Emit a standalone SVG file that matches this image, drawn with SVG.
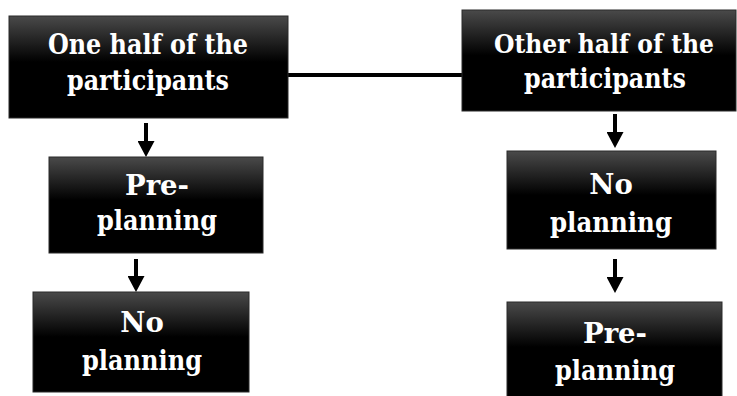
<svg xmlns="http://www.w3.org/2000/svg" width="737" height="396" viewBox="0 0 737 396">
<defs>
<linearGradient id="g" x1="0" y1="0" x2="0" y2="1">
<stop offset="0" stop-color="#4a4a4a"/>
<stop offset="0.45" stop-color="#000"/>
<stop offset="1" stop-color="#000"/>
</linearGradient>
<marker id="ah" markerWidth="4.25" markerHeight="4.25" refX="0" refY="2.125" orient="auto" markerUnits="strokeWidth">
<path d="M0,0 L4,2.125 L0,4.25 z" fill="#000"/>
</marker>
</defs>
<style>
.box{fill:url(#g);stroke:#2a2a2a;stroke-width:1}
.t{font-family:'DejaVu Serif',serif;font-weight:bold;font-size:27.5px;fill:#fff;text-anchor:middle}
.c{stroke:#000;stroke-width:4;fill:none}
</style>
<rect width="737" height="396" fill="#fff"/>
<g id="connectors">
<line class="c" x1="288" y1="75" x2="462" y2="75"/>
<path class="c" d="M146,123 V141" marker-end="url(#ah)"/>
<path class="c" d="M136,259 V276" marker-end="url(#ah)"/>
<path class="c" d="M615,114 V132" marker-end="url(#ah)"/>
<path class="c" d="M615,259 V277" marker-end="url(#ah)"/>
</g>
<g id="n1">
<rect class="box" x="9" y="16" width="279" height="102"/>
<text class="t" x="148" y="54" textLength="200" lengthAdjust="spacingAndGlyphs">One half of the</text>
<text class="t" x="148" y="90" textLength="162" lengthAdjust="spacingAndGlyphs">participants</text>
</g>
<g id="n2">
<rect class="box" x="462" y="10" width="274" height="101"/>
<text class="t" x="604" y="53" style="font-size:25.5px" textLength="220" lengthAdjust="spacingAndGlyphs">Other half of the</text>
<text class="t" x="605" y="88" textLength="162" lengthAdjust="spacingAndGlyphs">participants</text>
</g>
<g id="n3">
<rect class="box" x="49" y="157" width="214" height="96"/>
<text class="t" x="157" y="195">Pre-</text>
<text class="t" x="157" y="230" textLength="120" lengthAdjust="spacingAndGlyphs">planning</text>
</g>
<g id="n4">
<rect class="box" x="33" y="292" width="216" height="100"/>
<text class="t" x="142" y="332">No</text>
<text class="t" x="142" y="370" textLength="120" lengthAdjust="spacingAndGlyphs">planning</text>
</g>
<g id="n5">
<rect class="box" x="507" y="151" width="209" height="98"/>
<text class="t" x="611" y="194">No</text>
<text class="t" x="611" y="232" textLength="122" lengthAdjust="spacingAndGlyphs">planning</text>
</g>
<g id="n6">
<rect class="box" x="507" y="302" width="215" height="100"/>
<text class="t" x="615" y="343">Pre-</text>
<text class="t" x="615" y="380" textLength="120" lengthAdjust="spacingAndGlyphs">planning</text>
</g>
</svg>
